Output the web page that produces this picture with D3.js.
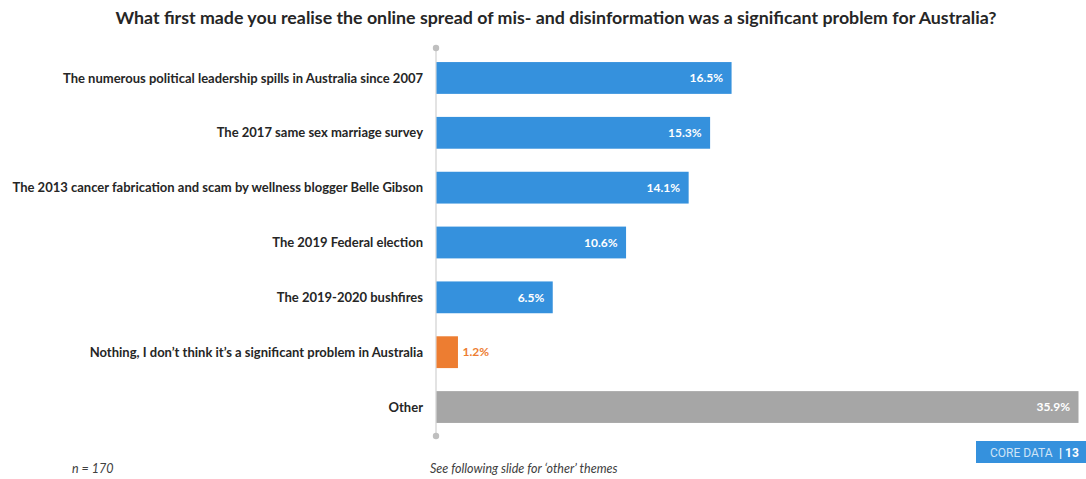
<!DOCTYPE html>
<html>
<head>
<meta charset="utf-8">
<script src="https://d3js.org/d3.v7.min.js"></script>
<style>
  html, body { margin: 0; padding: 0; background: #fff; }
  svg { display: block; }
</style>
</head>
<body>
<svg id="chart" width="1086" height="479"></svg>
<script>
const categories = [
  "The numerous political leadership spills in Australia since 2007",
  "The 2017 same sex marriage survey",
  "The 2013 cancer fabrication and scam by wellness blogger Belle Gibson",
  "The 2019 Federal election",
  "The 2019-2020 bushfires",
  "Nothing, I don\u2019t think it\u2019s a significant problem in Australia",
  "Other"
];
const values = [16.5, 15.3, 14.1, 10.6, 6.5, 1.2, 35.9];
const groups = ["main", "main", "main", "main", "main", "none", "other"];

const colour = { main: "#3591DD", none: "#ED7D31", other: "#A6A6A6" };
const font = "Lato, 'Open Sans', sans-serif";

const svg = d3.select("#chart");

const x = d3.scaleLinear().domain([0, 35.9]).range([436, 1078]);
const y = d3.scaleBand().domain(categories).range([50, 435]).paddingInner(0.42).paddingOuter(0.22);

// Title
svg.append("text")
  .attr("x", 556).attr("y", 24)
  .attr("text-anchor", "middle")
  .attr("font-family", font).attr("font-weight", 700)
  .attr("font-size", 17.8).attr("fill", "#262626")
  .text("What first made you realise the online spread of mis- and disinformation was a significant problem for Australia?");

// Category axis line with end dots
svg.append("line")
  .attr("x1", x(0)).attr("x2", x(0))
  .attr("y1", 48).attr("y2", 436)
  .attr("stroke", "#D0D0D0").attr("stroke-width", 1.2);
[48, 436].forEach(cy => svg.append("circle")
  .attr("cx", x(0)).attr("cy", cy).attr("r", 3.2).attr("fill", "#BFBFBF"));

// Bars
svg.selectAll("rect.bar").data(categories).join("rect")
  .attr("class", "bar")
  .attr("x", x(0) + 0.5)
  .attr("y", d => y(d))
  .attr("width", (d, i) => x(values[i]) - x(0))
  .attr("height", y.bandwidth())
  .attr("fill", (d, i) => colour[groups[i]]);

// Category labels
svg.selectAll("text.cat").data(categories).join("text")
  .attr("class", "cat")
  .attr("x", 423)
  .attr("y", d => y(d) + y.bandwidth() / 2)
  .attr("dy", "0.35em")
  .attr("text-anchor", "end")
  .attr("font-family", font).attr("font-weight", 700)
  .attr("font-size", 13).attr("fill", "#262626")
  .text(d => d);

// Value labels
svg.selectAll("text.val").data(categories).join("text")
  .attr("class", "val")
  .attr("x", (d, i) => groups[i] === "none" ? x(values[i]) + 5 : x(values[i]) - 8)
  .attr("y", d => y(d) + y.bandwidth() / 2)
  .attr("dy", "0.35em")
  .attr("text-anchor", (d, i) => groups[i] === "none" ? "start" : "end")
  .attr("font-family", font).attr("font-weight", 700)
  .attr("font-size", 12)
  .attr("fill", (d, i) => groups[i] === "none" ? colour.none : "#FFFFFF")
  .text((d, i) => values[i].toFixed(1) + "%");

// Footer notes
svg.append("text")
  .attr("x", 72).attr("y", 473)
  .attr("font-family", font).attr("font-style", "italic")
  .attr("font-size", 12.5).attr("fill", "#404040")
  .text("n = 170");
svg.append("text")
  .attr("x", 430).attr("y", 473)
  .attr("font-family", font).attr("font-style", "italic")
  .attr("font-size", 12.5).attr("fill", "#404040")
  .text("See following slide for \u2018other\u2019 themes");

// Brand tag
const tag = svg.append("g");
tag.append("rect")
  .attr("x", 976).attr("y", 441).attr("width", 110).attr("height", 22)
  .attr("fill", "#3591DD");
tag.append("text")
  .attr("x", 990).attr("y", 456.5)
  .attr("font-family", "Roboto, sans-serif")
  .attr("font-size", 12).attr("fill", "#CFE4F7")
  .text("CORE DATA");
tag.append("text")
  .attr("x", 1059).attr("y", 456.5)
  .attr("font-family", "Roboto, sans-serif").attr("font-weight", 700)
  .attr("font-size", 12).attr("fill", "#FFFFFF")
  .text("| 13");
</script>
</body>
</html>
